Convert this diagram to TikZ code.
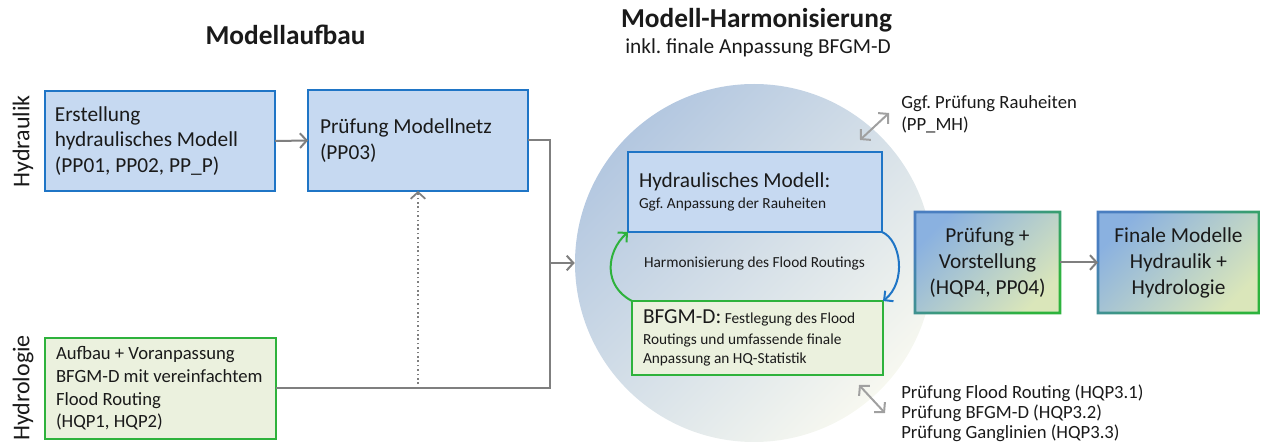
\documentclass[tikz,border=0pt]{standalone}
\usepackage{fontspec}
\setmainfont{Carlito}
\usetikzlibrary{arrows.meta}

% one drawing unit = one pixel of the layout grid
\newlength\pxu \setlength\pxu{0.75pt}
\newcommand\fsz[2]{\fontsize{#1pt}{#2pt}\selectfont}

\definecolor{boxblue}{HTML}{C6D9F1}
\definecolor{edgeblue}{HTML}{1F75C6}
\definecolor{boxgreen}{HTML}{EBF1DE}
\definecolor{edgegreen}{HTML}{2EB23C}
\definecolor{linegray}{HTML}{7F7F7F}
\definecolor{palegray}{HTML}{A0A0A0}
\definecolor{txt}{HTML}{1A1A1A}
\definecolor{circA}{HTML}{B3C7E0}
\definecolor{circB}{HTML}{F7F8F0}
\definecolor{gradA}{HTML}{8AB1E0}
\definecolor{gradB}{HTML}{DAE6BA}
\definecolor{rimA}{HTML}{4A7EC0}
\definecolor{rimB}{HTML}{2DB33D}

\begin{document}
\frenchspacing
\begin{tikzpicture}[x=0.75pt,y=-0.75pt,
  every node/.style={text=txt},
  bluebox/.style={rectangle, draw=edgeblue, line width=1.6pt, fill=boxblue,
    align=flush left, inner ysep=0pt, outer sep=0pt},
  greenbox/.style={rectangle, draw=edgegreen, line width=1.6pt, fill=boxgreen,
    align=flush left, inner ysep=0pt, outer sep=0pt},
  gradbox/.style={rectangle, top color=gradA, bottom color=gradB, shading angle=45,
    align=center, inner sep=0pt, outer sep=0pt, font=\fsz{16}{19.5}},
  rim/.style={top color=rimA, bottom color=rimB, shading angle=45, even odd rule},
  conn/.style={draw=linegray, line width=1.5pt, -{Straight Barb[length=5pt,width=11pt]}},
  plain/.style={draw=linegray, line width=1.5pt},
  dotconn/.style={draw=linegray, line width=1.3pt, dotted, -{Straight Barb[length=5pt,width=11pt]}},
  twoway/.style={draw=palegray, line width=1.5pt,
    {Straight Barb[length=5pt,width=11pt]}-{Straight Barb[length=5pt,width=11pt]}},
  loopgreen/.style={draw=edgegreen, line width=1.5pt, -{Straight Barb[length=5pt,width=10pt]}},
  loopblue/.style={draw=edgeblue, line width=1.5pt, -{Straight Barb[length=5pt,width=10pt]}},
]
\useasboundingbox (0,0) rectangle (1261,445);

% headings
\node[font=\fsz{20.5}{24}\bfseries, anchor=base] (tbuild) at (285.5,45) {Modellaufbau};
\node[font=\fsz{20.5}{24}\bfseries, anchor=base] (tharm) at (756.5,28) {Modell-Harmonisierung};
\node[font=\fsz{16}{19}, anchor=base] (tsub) at (758,54) {inkl. finale Anpassung BFGM-D};

% row labels
\node[rotate=90, font=\fsz{18}{21}] (lhyd) at (23,141.5) {Hydraulik};
\node[rotate=90, font=\fsz{18}{21}] (lhyl) at (23,388) {Hydrologie};

% model set-up
\node[bluebox, font=\fsz{16}{19}, inner xsep=10\pxu, text width=210\pxu,
  minimum height=100\pxu] (erst) at (160,141)
  {Erstellung\\hydraulisches Modell\\(PP01, PP02, PP\_P)};
\node[bluebox, font=\fsz{16}{19}, inner xsep=12\pxu, text width=196\pxu,
  minimum height=101\pxu] (netz) at (418,140.5)
  {Prüfung Modellnetz\\(PP03)};
\node[greenbox, font=\fsz{14}{17}, inner xsep=11\pxu, text width=209\pxu,
  minimum height=101\pxu] (bfgm) at (160.5,388.5)
  {Aufbau + Voranpassung\\BFGM-D mit vereinfachtem\\Flood Routing\\(HQP1, HQP2)};

% harmonisation circle
\node[circle, minimum size=358\pxu, inner sep=0pt, top color=circA, bottom color=circB,
  shading angle=45] (circ) at (754,263) {};

\node[bluebox, font=\fsz{11.5}{14}, inner xsep=11\pxu, text width=232\pxu,
  minimum height=80\pxu] (hm) at (755,192)
  {{\fsz{16}{19}Hydraulisches Modell:}\\[2pt]Ggf. Anpassung der Rauheiten};
\node[greenbox, font=\fsz{11.5}{14}, inner xsep=11\pxu, text width=229\pxu,
  minimum height=74\pxu] (fr) at (757.5,338)
  {{\fsz{16}{19}BFGM-D:} Festlegung des Flood\\[2pt]Routings und umfassende finale\\Anpassung an HQ-Statistik};
\node[font=\fsz{11.5}{14}, anchor=base] (harm) at (754.5,268) {Harmonisierung des Flood Routings};

% final steps
\node[gradbox, minimum width=145\pxu, minimum height=101\pxu] (pv) at (987.5,262.5)
  {Prüfung +\\Vorstellung\\(HQP4, PP04)};
\shade[rim] ([xshift=-1pt,yshift=1pt]pv.north west) rectangle ([xshift=1pt,yshift=-1pt]pv.south east)
  ([xshift=1pt,yshift=-1pt]pv.north west) rectangle ([xshift=-1pt,yshift=1pt]pv.south east);
\node[gradbox, minimum width=161\pxu, minimum height=101\pxu] (fm) at (1178.5,262.5)
  {Finale Modelle\\Hydraulik +\\Hydrologie};
\shade[rim] ([xshift=-1pt,yshift=1pt]fm.north west) rectangle ([xshift=1pt,yshift=-1pt]fm.south east)
  ([xshift=1pt,yshift=-1pt]fm.north west) rectangle ([xshift=-1pt,yshift=1pt]fm.south east);

% side notes
\node[font=\fsz{14}{16.5}, align=left, anchor=north west, inner sep=0pt] (noteR) at (901,95)
  {Ggf. Prüfung Rauheiten\\(PP\_MH)};
\node[font=\fsz{14}{15}, align=left, anchor=north west, inner sep=0pt] (noteQ) at (901,385)
  {Prüfung Flood Routing (HQP3.1)\\Prüfung BFGM-D (HQP3.2)\\Prüfung Ganglinien (HQP3.3)};

% connectors
\coordinate (bus) at (550,263);
\coordinate (dotfoot) at (netz.south |- bfgm.east);
\draw[conn] (erst.east) -- (netz.west);
\draw[plain] (netz.east) -| (bus) |- (bfgm.east);
\draw[conn] (bus) -- (circ.west);
\draw[dotconn] (dotfoot) -- (netz.south);

\draw[loopgreen] (fr.north west) .. controls (603,286) and (606,252) .. (hm.south west);
\draw[loopblue] (hm.south east) .. controls (901,240) and (907,282) .. (fr.north east);

\coordinate (rA) at (860,140);
\coordinate (rB) at (889,113);
\draw[twoway] (rA) -- (rB);
\coordinate (qA) at (859,385);
\coordinate (qB) at (885,413);
\draw[twoway] (qA) -- (qB);

\draw[conn] (pv.east) -- (fm.west);
\end{tikzpicture}
\end{document}
